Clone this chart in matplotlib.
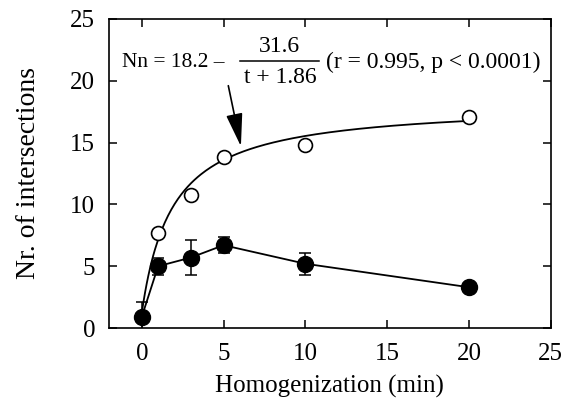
import numpy as np
import matplotlib
matplotlib.use('Agg')
import matplotlib.pyplot as plt

# Homogenization time (min) and intersection counts
t_open = [1, 3, 5, 10, 20]
n_open = [7.7, 10.8, 13.8, 14.8, 17.1]

t_filled = [0, 1, 3, 5, 10, 20]
n_filled = [0.9, 5.0, 5.7, 6.7, 5.2, 3.3]
err_filled = [1.2, 0.7, 1.4, 0.65, 0.9, 0.3]

# Hyperbolic fit: Nn = a - b / (t + c)
fit_a, fit_b, fit_c = 18.2, 31.6, 1.86

plt.rcParams.update({
    'font.family': ['Liberation Serif', 'DejaVu Serif'],
    'font.size': 17,
    'axes.linewidth': 1.2,
})

fig = plt.figure(figsize=(5.72, 4.03), dpi=100)
ax = fig.add_axes([0.1906, 0.186, 0.7724, 0.767])

tt = np.linspace(0, 20, 200)
ax.plot(tt, fit_a - fit_b / (tt + fit_c), color='black', lw=1.3)
ax.plot(t_open, n_open, 'o', mfc='white', mec='black', mew=1.2, ms=10)

ax.errorbar(t_filled, n_filled, yerr=err_filled, fmt='o-', color='black',
            ms=11.5, lw=1.3, elinewidth=1.1, capsize=4, capthick=1.1)

ax.set_xlim(-2, 25)
ax.set_ylim(0, 25)
ax.set_xticks([0, 5, 10, 15, 20, 25])
ax.set_yticks([0, 5, 10, 15, 20, 25])
ax.tick_params(direction='in', length=6, width=1.1, top=True, right=True,
               labelsize=18)
ax.tick_params(axis='x', pad=11)
ax.tick_params(axis='y', pad=10)
ax.set_xlabel('Homogenization (min)', fontsize=18, labelpad=7)
ax.set_ylabel('Nr. of intersections', fontsize=20, labelpad=21)

# equation drawn as separate pieces with a fraction bar
ax.text(-1.2, 21.5, 'Nn = 18.2 \u2013', fontsize=15.5, ha='left', va='center')
ax.text(8.44, 22.75, '31.6', fontsize=17, ha='center', va='center')
ax.plot([6.0, 10.86], [21.56, 21.56], color='black', lw=1.1)
ax.text(8.44, 20.25, 't + 1.86', fontsize=17, ha='center', va='center')
ax.text(11.23, 21.5, '(r = 0.995, p < 0.0001)', fontsize=17, ha='left', va='center')

ax.annotate('', xy=(6.06, 14.7), xytext=(5.29, 19.6),
            arrowprops=dict(arrowstyle='-|>,head_length=1.2,head_width=0.3',
                            color='black', lw=1.2, shrinkA=0, shrinkB=0))

fig.savefig('out.png', dpi=100)
